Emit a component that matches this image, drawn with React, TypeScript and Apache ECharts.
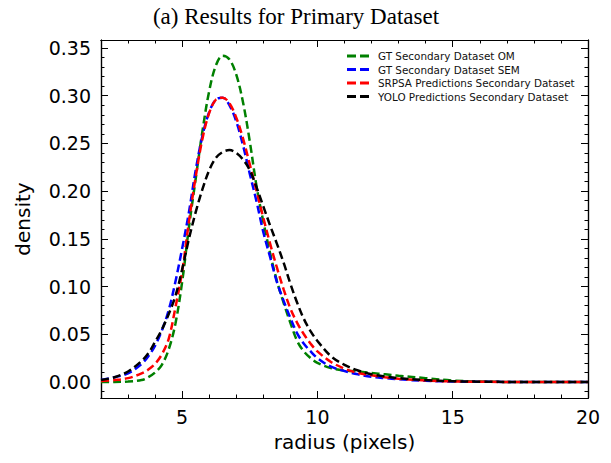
import React, { useEffect, useRef } from "react";
import * as echarts from "echarts";

const RADIUS = [2, 2.5, 3, 3.5, 3.75, 4, 4.25, 4.5, 4.75, 5, 5.25, 5.5, 5.75, 6, 6.25, 6.5, 6.75, 7, 7.25, 7.5, 7.75, 8, 8.25, 8.5, 8.75, 9, 9.25, 9.5, 9.75, 10, 10.5, 11, 11.5, 12, 12.5, 13, 14, 15, 16, 18, 20];

const GT_OM = [0, 0, 0.0005, 0.002, 0.005, 0.010, 0.018, 0.034, 0.061, 0.105, 0.162, 0.213, 0.263, 0.305, 0.332, 0.342, 0.338, 0.322, 0.293, 0.252, 0.205, 0.168, 0.135, 0.106, 0.083, 0.062, 0.043, 0.032, 0.025, 0.020, 0.0145, 0.012, 0.011, 0.0095, 0.008, 0.0065, 0.004, 0.0015, 0.0004, 0, 0];
const GT_SEM = [0.002, 0.005, 0.009, 0.019, 0.027, 0.038, 0.054, 0.075, 0.105, 0.140, 0.178, 0.222, 0.258, 0.283, 0.296, 0.298, 0.290, 0.273, 0.248, 0.218, 0.189, 0.157, 0.131, 0.105, 0.085, 0.067, 0.051, 0.040, 0.032, 0.025, 0.016, 0.0115, 0.008, 0.0055, 0.004, 0.0028, 0.0012, 0.0005, 0.0002, 0, 0];
const SRPSA = [0.001, 0.002, 0.004, 0.009, 0.013, 0.019, 0.029, 0.045, 0.078, 0.116, 0.168, 0.215, 0.255, 0.282, 0.296, 0.298, 0.292, 0.277, 0.255, 0.228, 0.200, 0.172, 0.145, 0.120, 0.097, 0.077, 0.062, 0.050, 0.040, 0.032, 0.021, 0.014, 0.0095, 0.007, 0.005, 0.0035, 0.0015, 0.0006, 0.0002, 0, 0];
const YOLO = [0.002, 0.005, 0.011, 0.022, 0.030, 0.042, 0.055, 0.071, 0.090, 0.118, 0.150, 0.178, 0.202, 0.222, 0.235, 0.241, 0.243, 0.240, 0.233, 0.222, 0.204, 0.184, 0.164, 0.145, 0.125, 0.103, 0.083, 0.066, 0.053, 0.043, 0.027, 0.018, 0.012, 0.008, 0.0058, 0.004, 0.002, 0.0008, 0.0003, 0, 0];

const SERIES_NAMES = [
  "GT Secondary Dataset OM",
  "GT Secondary Dataset SEM",
  "SRPSA Predictions Secondary Dataset",
  "YOLO Predictions Secondary Dataset",
];
const SERIES_VALUES = [GT_OM, GT_SEM, SRPSA, YOLO];
const SERIES_COLORS = ["#008000", "#0000ff", "#ff0000", "#000000"];

const X_TICKS = [5, 10, 15, 20];
const X_MINOR = [3, 4, 6, 7, 8, 9, 11, 12, 13, 14, 16, 17, 18, 19];
const Y_TICKS = [0, 0.05, 0.1, 0.15, 0.2, 0.25, 0.3, 0.35];
const Y_MINOR_HUNDREDTHS = [-1, 1, 2, 3, 4, 6, 7, 8, 9, 11, 12, 13, 14, 16, 17, 18, 19, 21, 22, 23, 24, 26, 27, 28, 29, 31, 32, 33, 34];
const Y_MINOR = Y_MINOR_HUNDREDTHS.map((v) => v / 100);

const TITLE = "(a) Results for Primary Dataset";
const X_NAME = "radius (pixels)";
const Y_NAME = "density";

const X_MIN = 2, X_MAX = 20, Y_MIN = -0.0168, Y_MAX = 0.3584;

export default function App() {
  const ref = useRef<HTMLDivElement>(null);
  useEffect(() => {
    if (!ref.current) return;
    const chart = echarts.init(ref.current, null, { renderer: "svg" });
    const font = "DejaVu Sans";
    const line = { lineStyle: { color: "#000", width: 1.2 } };
    const mkX = (position: string, ticks: number[], len: number, labels: boolean, name?: string) => ({
      type: "value",
      min: X_MIN,
      max: X_MAX,
      position,
      name,
      nameLocation: "middle",
      nameGap: 34,
      nameTextStyle: { fontFamily: font, fontSize: 20, color: "#000" },
      axisLine: { show: true, onZero: false, ...line },
      axisTick: { show: true, inside: true, length: len, customValues: ticks, lineStyle: { color: "#000", width: 1 } },
      axisLabel: { show: labels, customValues: ticks, margin: 9, fontFamily: font, fontSize: 19, color: "#000" },
      splitLine: { show: false },
    });
    const mkY = (position: string, ticks: number[], len: number, labels: boolean, name?: string) => ({
      type: "value",
      min: Y_MIN,
      max: Y_MAX,
      position,
      name,
      nameLocation: "middle",
      nameGap: 68,
      nameRotate: 90,
      nameTextStyle: { fontFamily: font, fontSize: 20, color: "#000" },
      axisLine: { show: true, onZero: false, ...line },
      axisTick: { show: true, inside: true, length: len, customValues: ticks, lineStyle: { color: "#000", width: 1 } },
      axisLabel: {
        show: labels,
        customValues: ticks,
        margin: 10,
        fontFamily: font,
        fontSize: 19,
        color: "#000",
        formatter: (v: number) => v.toFixed(2),
      },
      splitLine: { show: false },
    });

    chart.setOption({
      animation: false,
      backgroundColor: "#fff",
      grid: { left: 101, right: 23, top: 40, bottom: 65 },
      graphic: [
        {
          type: "text",
          x: 296,
          y: 16,
          style: {
            text: TITLE,
            font: "23px 'Liberation Serif'",
            fill: "#000",
            textAlign: "center",
            textVerticalAlign: "middle",
          },
        },
      ],
      legend: {
        orient: "vertical",
        left: 347,
        top: 50,
        padding: 0,
        itemWidth: 22,
        itemHeight: 3,
        itemGap: 1.5,
        icon: "path://M0,0H9V3H0ZM13,0H22V3H13Z",
        textStyle: { fontFamily: font, fontSize: 10.4, color: "#111", lineHeight: 12, padding: [0, 0, 0, 4] },
        data: SERIES_NAMES,
      },
      xAxis: [
        mkX("bottom", X_TICKS, 7, true, X_NAME),
        mkX("bottom", X_MINOR, 3.5, false),
        mkX("top", X_TICKS, 7, false),
        mkX("top", X_MINOR, 3.5, false),
      ],
      yAxis: [
        mkY("left", Y_TICKS, 7, true, Y_NAME),
        mkY("left", Y_MINOR, 3.5, false),
        mkY("right", Y_TICKS, 7, false),
        mkY("right", Y_MINOR, 3.5, false),
      ],
      series: SERIES_NAMES.map((name, i) => ({
        name,
        type: "line",
        xAxisIndex: 0,
        yAxisIndex: 0,
        smooth: 0.35,
        symbol: "none",
        color: SERIES_COLORS[i],
        lineStyle: { color: SERIES_COLORS[i], width: 2.5, type: [8, 4] },
        data: RADIUS.map((x, j) => [x, SERIES_VALUES[i][j]]),
      })),
    });
    return () => chart.dispose();
  }, []);
  return <div ref={ref} style={{ position: "fixed", left: 0, top: 0, width: 611, height: 463, background: "#fff" }} />;
}
